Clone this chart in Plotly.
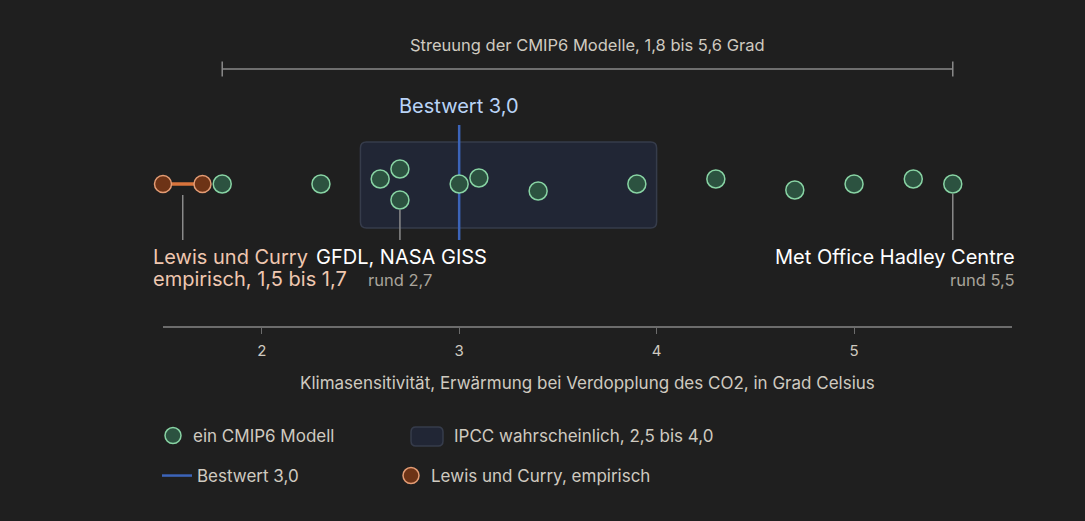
import plotly.graph_objects as go

# ---------------- data ----------------
cmip6_ecs = [1.8, 2.3, 2.6, 2.7, 2.7, 3.0, 3.1, 3.4, 3.9, 4.3, 4.7, 5.0, 5.3, 5.5]
swarm_offset = [0, 0, 5, 15, -16, 0, 6, -7, 0, 5, -6, 0, 5, 0]   # beeswarm lane offsets (px)
lewis_curry = [1.5, 1.7]
ipcc_likely = [2.5, 4.0]
best_estimate = 3.0
cmip6_spread = [min(cmip6_ecs), max(cmip6_ecs)]
x_ticks = [2, 3, 4, 5]
x_tick_labels = ["2", "3", "4", "5"]
x_range = [1.5, 5.8]

# ---------------- style ----------------
FONT = "Inter"
BG = "#1f1f1f"
TXT = "#cfcac0"
TXT_DIM = "#a9a49b"
GREEN_FILL = "#2c5240"
GREEN_LINE = "#88d4a4"
ORANGE_FILL = "#6d3316"
ORANGE_LINE = "#e49c74"
ORANGE_BAR = "#d9743c"
BLUE = "#3c64b9"
BOX_FILL = "#212635"
BOX_LINE = "#363c4b"
GREY_LINE = "#8a8a8a"

W, H = 1085, 521
PL, PR = 163, 73
PW = W - PL - PR
BASE_PX = 184  # pixel row of the swarm baseline
y_range = [BASE_PX - H, BASE_PX]
def ypx(p):
    return BASE_PX - p
def lx(p):
    return (p - PL) / PW
def ly(p):
    return (H - p) / H

def rounded_path(xa, xb, ya, yb, rx, ry):
    # ya = top, yb = bottom (ya > yb)
    return (f"M{xa+rx},{ya} L{xb-rx},{ya} Q{xb},{ya} {xb},{ya-ry} "
            f"L{xb},{yb+ry} Q{xb},{yb} {xb-rx},{yb} L{xa+rx},{yb} "
            f"Q{xa},{yb} {xa},{yb+ry} L{xa},{ya-ry} Q{xa},{ya} {xa+rx},{ya} Z")

fig = go.Figure()

# IPCC likely range box
x0, x1 = ipcc_likely
fig.add_shape(type="path", xref="x", yref="y",
              path=rounded_path(x0, x1, ypx(142), ypx(228), 6 / 197.3, 6),
              fillcolor=BOX_FILL, line=dict(color=BOX_LINE, width=1.5), layer="below")
# legend entry for the box (symbol drawn as a rounded swatch)
fig.add_trace(go.Scatter(x=[None], y=[None], mode="markers",
                         marker=dict(color="rgba(0,0,0,0)", size=2, line=dict(width=0)),
                         name="IPCC wahrscheinlich, 2,5 bis 4,0", legend="legend2"))
fig.add_shape(type="path", xref="paper", yref="paper",
              path=rounded_path(lx(411), lx(443), ly(427), ly(446), 5 / PW, 5 / H),
              fillcolor=BOX_FILL, line=dict(color=BOX_LINE, width=1.5))

# best estimate line
fig.add_trace(go.Scatter(x=[best_estimate, best_estimate], y=[ypx(125), ypx(240)],
                         mode="lines", line=dict(color=BLUE, width=2.5),
                         name="Bestwert 3,0", legend="legend3", hoverinfo="skip"))

# leader lines
for xv, ptop in [(sum(lewis_curry) / 2, 195), (2.7, 210), (5.5, 194)]:
    fig.add_shape(type="line", x0=xv, x1=xv, y0=ypx(ptop), y1=ypx(240),
                  xref="x", yref="y", line=dict(color=GREY_LINE, width=1.5))

# CMIP6 spread bracket
sy = ypx(69)
fig.add_shape(type="line", x0=cmip6_spread[0], x1=cmip6_spread[1], y0=sy, y1=sy,
              line=dict(color=GREY_LINE, width=1.5))
for xv in cmip6_spread:
    fig.add_shape(type="line", x0=xv, x1=xv, y0=sy - 7.5, y1=sy + 7.5,
                  line=dict(color=GREY_LINE, width=1.5))

# Lewis & Curry
fig.add_trace(go.Scatter(x=lewis_curry, y=[0, 0], mode="lines",
                         line=dict(color=ORANGE_BAR, width=3.5), cliponaxis=False,
                         showlegend=False, hoverinfo="skip"))
fig.add_trace(go.Scatter(x=lewis_curry, y=[0, 0], mode="markers", cliponaxis=False,
                         marker=dict(size=17, color=ORANGE_FILL,
                                     line=dict(color=ORANGE_LINE, width=1.5)),
                         name="Lewis und Curry, empirisch", legend="legend4"))

# CMIP6 models
fig.add_trace(go.Scatter(x=cmip6_ecs, y=swarm_offset, mode="markers", cliponaxis=False,
                         marker=dict(size=18, color=GREEN_FILL,
                                     line=dict(color=GREEN_LINE, width=1.5)),
                         name="ein CMIP6 Modell", legend="legend"))

BIG = 20
SMALL = 16.5
ann = []
ann.append(dict(x=sum(cmip6_spread) / 2, y=ypx(45), text="Streuung der CMIP6 Modelle, 1,8 bis 5,6 Grad",
                font=dict(size=16.5, color=TXT)))
ann.append(dict(x=best_estimate, y=ypx(106), text="Bestwert 3,0",
                font=dict(size=BIG, color="#b9d3f6")))
ann.append(dict(x=1.5, xshift=-12, y=ypx(257), xanchor="left", text="Lewis und Curry",
                font=dict(size=BIG, color="#efc7b0")))
ann.append(dict(x=1.5, xshift=-12, y=ypx(279), xanchor="left", text="empirisch, 1,5 bis 1,7",
                font=dict(size=BIG, color="#efc7b0")))
ann.append(dict(x=2.7, xshift=2, y=ypx(257), text="GFDL, NASA GISS",
                font=dict(size=BIG, color="#ffffff")))
ann.append(dict(x=2.7, y=ypx(280), text="rund 2,7",
                font=dict(size=SMALL, color=TXT_DIM)))
ann.append(dict(x=5.8, xshift=5, y=ypx(257), xanchor="right", text="Met Office Hadley Centre",
                font=dict(size=BIG, color="#ffffff")))
ann.append(dict(x=5.8, xshift=5, y=ypx(280), xanchor="right", text="rund 5,5",
                font=dict(size=SMALL, color=TXT_DIM)))
ann.append(dict(x=sum(x_range) / 2, y=ypx(383),
                text="Klimasensitivität, Erwärmung bei Verdopplung des CO2, in Grad Celsius",
                font=dict(size=17, color=TXT)))
for a in ann:
    a.setdefault("xref", "x")
    a.setdefault("yref", "y")
    a.setdefault("showarrow", False)
    a["font"]["family"] = FONT
    fig.add_annotation(**a)

leg_common = dict(orientation="h", bgcolor="rgba(0,0,0,0)", borderwidth=0,
                  font=dict(family=FONT, size=17, color=TXT), yanchor="middle",
                  xanchor="left", itemclick=False, itemdoubleclick=False)

fig.update_layout(
    width=W, height=H,
    margin=dict(l=PL, r=PR, t=0, b=0),
    paper_bgcolor=BG, plot_bgcolor=BG,
    font=dict(family=FONT, color=TXT),
    showlegend=True,
    legend=dict(x=lx(153), y=ly(436), **leg_common),
    legend2=dict(x=lx(414), y=ly(436), **leg_common),
    legend3=dict(x=lx(157), y=ly(476), **leg_common),
    legend4=dict(x=lx(391), y=ly(476), **leg_common),
    xaxis=dict(range=x_range, anchor="free", position=ly(327),
               tickvals=x_ticks, ticktext=x_tick_labels,
               showgrid=False, zeroline=False,
               showline=True, linecolor="#6c6c6c", linewidth=2,
               ticks="outside", ticklen=6, tickwidth=1, tickcolor="#6c6c6c",
               ticklabelstandoff=4,
               tickfont=dict(family=FONT, size=15, color=TXT)),
    yaxis=dict(range=y_range, domain=[0, 1], visible=False, showgrid=False, zeroline=False),
    hovermode=False,
)

fig.write_html("out.html")
